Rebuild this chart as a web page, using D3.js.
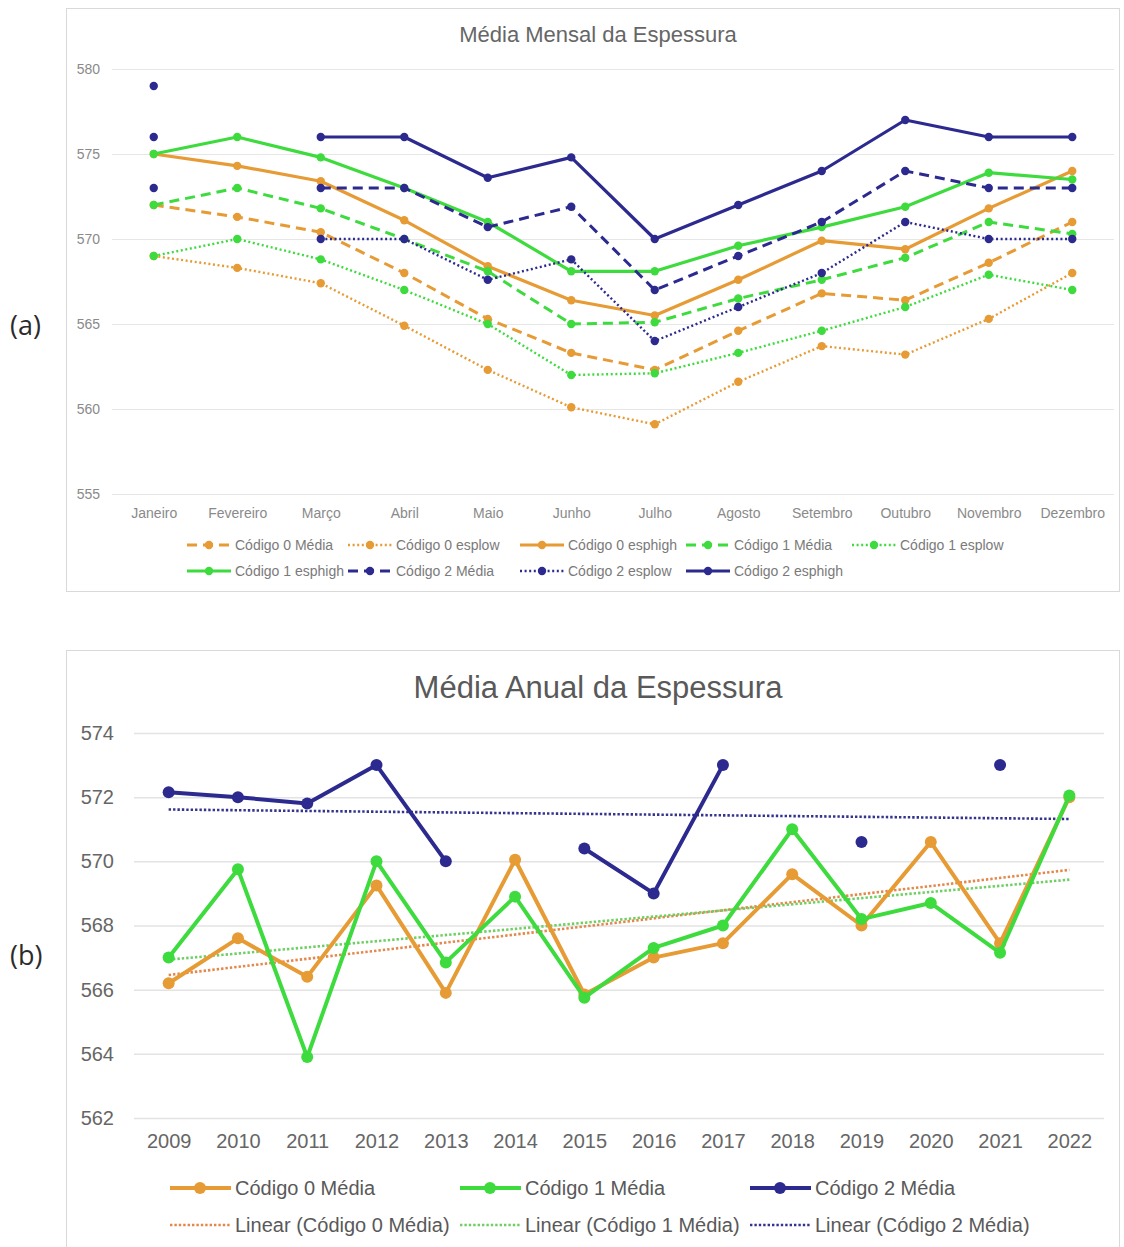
<!DOCTYPE html>
<html><head><meta charset="utf-8">
<script src="https://cdn.jsdelivr.net/npm/d3@7"></script>
<style>
body{margin:0;background:#fff;}
svg text{font-family:"Liberation Sans",Arial,sans-serif;}
</style></head><body>
<svg id="c" width="1124" height="1247"></svg>
<script>
// ---------- Data: (a) Média Mensal da Espessura ----------
const months = ["Janeiro","Fevereiro","Março","Abril","Maio","Junho","Julho","Agosto","Setembro","Outubro","Novembro","Dezembro"];
const c0Media = [572, 571.3, 570.4, 568, 565.3, 563.3, 562.3, 564.6, 566.8, 566.4, 568.6, 571];
const c0Low   = [569, 568.3, 567.4, 564.9, 562.3, 560.1, 559.1, 561.6, 563.7, 563.2, 565.3, 568];
const c0High  = [575, 574.3, 573.4, 571.1, 568.4, 566.4, 565.5, 567.6, 569.9, 569.4, 571.8, 574];
const c1Media = [572, 573, 571.8, 570, 568.1, 565, 565.1, 566.5, 567.6, 568.9, 571, 570.3];
const c1Low   = [569, 570, 568.8, 567, 565, 562, 562.1, 563.3, 564.6, 566, 567.9, 567];
const c1High  = [575, 576, 574.8, 573, 571, 568.1, 568.1, 569.6, 570.7, 571.9, 573.9, 573.5];
const c2Media = [576, null, 573, 573, 570.7, 571.9, 567, 569, 571, 574, 573, 573];
const c2Low   = [573, null, 570, 570, 567.6, 568.8, 564, 566, 568, 571, 570, 570];
const c2High  = [579, null, 576, 576, 573.6, 574.8, 570, 572, 574, 577, 576, 576];
const ticksMensal = [555, 560, 565, 570, 575, 580];

// ---------- Data: (b) Média Anual da Espessura ----------
const years = ["2009","2010","2011","2012","2013","2014","2015","2016","2017","2018","2019","2020","2021","2022"];
const anualC0 = [566.2, 567.6, 566.4, 569.25, 565.9, 570.05, 565.85, 567.0, 567.45, 569.6, 568.0, 570.6, 567.45, 572.0];
const anualC1 = [567.0, 569.75, 563.9, 570.0, 566.85, 568.9, 565.75, 567.3, 568.0, 571.0, 568.2, 568.7, 567.15, 572.05];
const anualC2 = [572.15, 572.0, 571.8, 573.0, 570.0, null, 570.4, 569.0, 573.0, null, 570.6, null, 573.0, null];
const ticksAnual = [562, 564, 566, 568, 570, 572, 574];

// ---------- Styles ----------
const ORANGE = "#E69B35", GREEN = "#3EDB3E", NAVY = "#2C2A8F";
const TR_ORANGE = "#E3874A", TR_GREEN = "#6ECF62", TR_NAVY = "#34348E";

const svg = d3.select("#c");

// ===================== Chart (a) =====================
const gA = svg.append("g");
gA.append("rect").attr("x",66.5).attr("y",8.5).attr("width",1053).attr("height",583)
  .attr("fill","#fff").attr("stroke","#d9d9d9");
svg.append("text").attr("x",10).attr("y",335).attr("font-size",27).attr("fill","#2b2b2b")
  .style("font-family","'Open Sans',sans-serif").text("(a)");

const xA = d3.scalePoint().domain(months).range([112,1114]).padding(0.5);
const yA = d3.scaleLinear().domain([555,580]).range([494,69]);

gA.append("text").attr("x",598).attr("y",42).attr("text-anchor","middle")
  .attr("font-size",22).attr("fill","#666").text("Média Mensal da Espessura");

const axLA = gA.append("g").attr("transform","translate(112,0)")
  .call(d3.axisLeft(yA).tickValues(ticksMensal).tickSize(-1002).tickPadding(12).tickFormat(d3.format("d")));
axLA.select(".domain").remove();
axLA.selectAll(".tick line").attr("stroke","#e6e6e6");
axLA.selectAll(".tick text").attr("font-size",14).attr("fill","#8a8a8a");

const axBA = gA.append("g").attr("transform","translate(0,494)")
  .call(d3.axisBottom(xA).tickSize(0).tickPadding(14));
axBA.select(".domain").remove();
axBA.selectAll(".tick text").attr("font-size",14).attr("fill","#8a8a8a");

const seriesA = [
  {name:"Código 0 Média", v:c0Media, c:ORANGE, s:"dash"},
  {name:"Código 0 esplow", v:c0Low, c:ORANGE, s:"dot"},
  {name:"Código 0 esphigh", v:c0High, c:ORANGE, s:"solid"},
  {name:"Código 1 Média", v:c1Media, c:GREEN, s:"dash"},
  {name:"Código 1 esplow", v:c1Low, c:GREEN, s:"dot"},
  {name:"Código 1 esphigh", v:c1High, c:GREEN, s:"solid"},
  {name:"Código 2 Média", v:c2Media, c:NAVY, s:"dash"},
  {name:"Código 2 esplow", v:c2Low, c:NAVY, s:"dot"},
  {name:"Código 2 esphigh", v:c2High, c:NAVY, s:"solid"}
];
const styleA = {
  solid:{w:3.2, d:null},
  dash:{w:3, d:"10,6"},
  dot:{w:2.4, d:"2,2.6"}
};
const lineA = d3.line().defined(d=>d.v!=null).x(d=>xA(d.m)).y(d=>yA(d.v));
seriesA.forEach(s=>{
  const pts = months.map((m,i)=>({m, v:s.v[i]}));
  const st = styleA[s.s];
  gA.append("path").datum(pts).attr("d",lineA).attr("fill","none")
    .attr("stroke",s.c).attr("stroke-width",st.w).attr("stroke-dasharray",st.d)
    .attr("stroke-linejoin","round");
  gA.selectAll(null).data(pts.filter(p=>p.v!=null)).enter().append("circle")
    .attr("cx",d=>xA(d.m)).attr("cy",d=>yA(d.v)).attr("r",4.2).attr("fill",s.c);
});

// legend (a)
const legColsA = [187, 348, 520, 686, 852];
const legRowsA = [545, 571];
seriesA.forEach((s,i)=>{
  const row = i<5?0:1, col = i<5?i:i-5;
  const x0 = legColsA[col], y0 = legRowsA[row];
  const st = styleA[s.s];
  const g = gA.append("g");
  g.append("line").attr("x1",x0).attr("x2",x0+44).attr("y1",y0).attr("y2",y0)
    .attr("stroke",s.c).attr("stroke-width",st.w).attr("stroke-dasharray",st.d);
  g.append("circle").attr("cx",x0+22).attr("cy",y0).attr("r",4.2).attr("fill",s.c);
  g.append("text").attr("x",x0+48).attr("y",y0+5).attr("font-size",14).attr("fill","#7a7a7a").text(s.name);
});

// ===================== Chart (b) =====================
const gB = svg.append("g");
gB.append("rect").attr("x",66.5).attr("y",650.5).attr("width",1053).attr("height",620)
  .attr("fill","#fff").attr("stroke","#d9d9d9");
svg.append("text").attr("x",10).attr("y",965).attr("font-size",27).attr("fill","#2b2b2b")
  .style("font-family","'Open Sans',sans-serif").text("(b)");

const xB = d3.scalePoint().domain(years).range([134,1104]).padding(0.5);
const yB = d3.scaleLinear().domain([562,574]).range([1118,733]);

gB.append("text").attr("x",598).attr("y",698).attr("text-anchor","middle")
  .attr("font-size",31).attr("fill","#595959").text("Média Anual da Espessura");

const axLB = gB.append("g").attr("transform","translate(134,0)")
  .call(d3.axisLeft(yB).tickValues(ticksAnual).tickSize(-970).tickPadding(20).tickFormat(d3.format("d")));
axLB.select(".domain").remove();
axLB.selectAll(".tick line").attr("stroke","#e3e3e3").attr("stroke-width",1.5);
axLB.selectAll(".tick text").attr("font-size",20).attr("fill","#666");

const axBB = gB.append("g").attr("transform","translate(0,1118)")
  .call(d3.axisBottom(xB).tickSize(0).tickPadding(16));
axBB.select(".domain").remove();
axBB.selectAll(".tick text").attr("font-size",20).attr("fill","#666");

const seriesB = [
  {name:"Código 0 Média", v:anualC0, c:ORANGE, tc:TR_ORANGE},
  {name:"Código 1 Média", v:anualC1, c:GREEN, tc:TR_GREEN},
  {name:"Código 2 Média", v:anualC2, c:NAVY, tc:TR_NAVY}
];

// linear trendlines (least squares on category index, like Excel)
function trend(vals){
  const pts = vals.map((v,i)=>({i,v})).filter(p=>p.v!=null);
  const mx = d3.mean(pts,p=>p.i), my = d3.mean(pts,p=>p.v);
  const sxy = d3.sum(pts,p=>(p.i-mx)*(p.v-my)), sxx = d3.sum(pts,p=>(p.i-mx)**2);
  const b = sxy/sxx, a = my-b*mx;
  return [{y:years[0], v:a}, {y:years[years.length-1], v:a+b*(years.length-1)}];
}
const lineB = d3.line().defined(d=>d.v!=null).x(d=>xB(d.y)).y(d=>yB(d.v));
seriesB.forEach(s=>{
  gB.append("path").datum(trend(s.v)).attr("d",lineB).attr("fill","none")
    .attr("stroke",s.tc).attr("stroke-width",2.6).attr("stroke-dasharray","2.4,2");
});
seriesB.forEach(s=>{
  const pts = years.map((y,i)=>({y, v:s.v[i]}));
  gB.append("path").datum(pts).attr("d",lineB).attr("fill","none")
    .attr("stroke",s.c).attr("stroke-width",4).attr("stroke-linejoin","round");
  gB.selectAll(null).data(pts.filter(p=>p.v!=null)).enter().append("circle")
    .attr("cx",d=>xB(d.y)).attr("cy",d=>yB(d.v)).attr("r",6).attr("fill",s.c);
});

// legend (b)
const legColsB = [170, 460, 750];
seriesB.forEach((s,i)=>{
  const x0 = legColsB[i];
  gB.append("line").attr("x1",x0).attr("x2",x0+61).attr("y1",1188).attr("y2",1188)
    .attr("stroke",s.c).attr("stroke-width",4);
  gB.append("circle").attr("cx",x0+30).attr("cy",1188).attr("r",6).attr("fill",s.c);
  gB.append("text").attr("x",x0+65).attr("y",1195).attr("font-size",20).attr("fill","#595959").text(s.name);
  gB.append("line").attr("x1",x0).attr("x2",x0+60).attr("y1",1225).attr("y2",1225)
    .attr("stroke",s.tc).attr("stroke-width",2.6).attr("stroke-dasharray","2.4,2");
  gB.append("text").attr("x",x0+65).attr("y",1232).attr("font-size",20).attr("fill","#595959").text("Linear (" + s.name + ")");
});
</script>
</body></html>
